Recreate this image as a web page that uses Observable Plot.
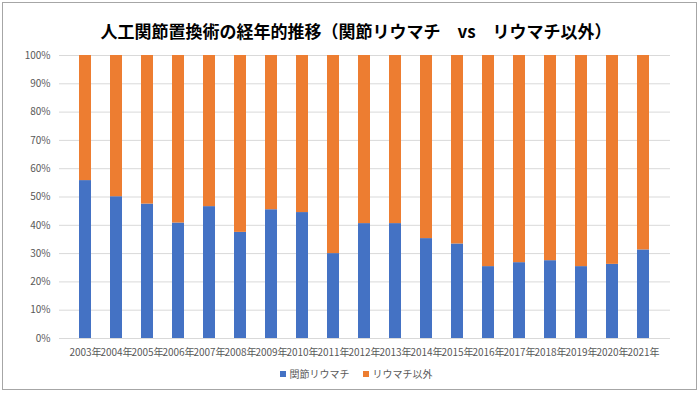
<!DOCTYPE html>
<html>
<head>
<meta charset="utf-8">
<script src="https://cdn.jsdelivr.net/npm/d3@7"></script>
<script src="https://cdn.jsdelivr.net/npm/@observablehq/plot@0.6"></script>
<style>
  body { margin: 0; background: #fff; }
  #wrap { position: relative; width: 700px; height: 393px; overflow: hidden; font-family: "Noto Sans CJK JP", sans-serif; }
  #frame { position: absolute; left: 2px; top: 2px; width: 695px; height: 388px; border: 1px solid #a6a6a6; box-sizing: border-box; }
  #title { position: absolute; left: 6px; top: 19px; width: 700px; text-align: center; font-size: 17px; font-weight: bold; color: #000; line-height: 24px; }
  #chart { position: absolute; left: 0; top: 0; }
  #legend { position: absolute; left: 6px; top: 366px; width: 700px; display: flex; justify-content: center; gap: 13px; font-size: 10px; color: #595959; line-height: 16px; }
  .item { display: flex; align-items: center; gap: 4px; }
  .sw { width: 6px; height: 6px; display: inline-block; }
</style>
</head>
<body>
<div id="wrap">
  <div id="frame"></div>
  <div id="chart"></div>
  <div id="title"></div>
  <div id="legend"></div>
</div>
<script>
const titleText = "人工関節置換術の経年的推移（関節リウマチ　vs　リウマチ以外）";
const years = ["2003年","2004年","2005年","2006年","2007年","2008年","2009年","2010年","2011年","2012年","2013年","2014年","2015年","2016年","2017年","2018年","2019年","2020年","2021年"];
const seriesNames = ["関節リウマチ", "リウマチ以外"];
const seriesColors = ["#4472C4", "#ED7D31"];
const raValues = [55.8, 50.1, 47.5, 40.8, 46.6, 37.5, 45.5, 44.5, 30.0, 40.6, 40.6, 35.3, 33.4, 25.4, 26.8, 27.5, 25.4, 26.2, 31.3];
const otherValues = raValues.map(v => 100 - v); // share of the 100% stack
const yTicks = [0,10,20,30,40,50,60,70,80,90,100];

const data = [];
years.forEach((y, i) => {
  data.push({year: y, series: seriesNames[0], value: raValues[i]});
  data.push({year: y, series: seriesNames[1], value: otherValues[i]});
});

document.getElementById("title").textContent = titleText;

const chart = Plot.plot({
  width: 700,
  height: 393,
  marginLeft: 59,
  marginRight: 30,
  marginTop: 55,
  marginBottom: 55,
  style: {fontFamily: '"Noto Sans CJK JP", sans-serif', fontSize: "10px", color: "#595959", background: "transparent"},
  x: {domain: years, padding: 0.6, label: null, tickSize: 0, tickPadding: 10},
  y: {domain: [0, 100], ticks: yTicks, tickFormat: d => d + "%", label: null, tickSize: 0, tickPadding: 9},
  color: {domain: seriesNames, range: seriesColors},
  marks: [
    Plot.gridY(yTicks, {stroke: "#d9d9d9", strokeOpacity: 1}),
    Plot.barY(data, {x: "year", y: "value", fill: "series", order: seriesNames}),
    Plot.axisX({tickSize: 0, tickPadding: 10, fill: "#595959"}),
    Plot.axisY({ticks: yTicks, tickFormat: d => d + "%", tickSize: 0, tickPadding: 9, fill: "#595959"})
  ]
});
document.getElementById("chart").appendChild(chart);

const legend = document.getElementById("legend");
seriesNames.forEach((n, i) => {
  const it = document.createElement("div");
  it.className = "item";
  const sw = document.createElement("span");
  sw.className = "sw";
  sw.style.background = seriesColors[i];
  const t = document.createElement("span");
  t.textContent = n;
  it.appendChild(sw); it.appendChild(t);
  legend.appendChild(it);
});
</script>
</body>
</html>
